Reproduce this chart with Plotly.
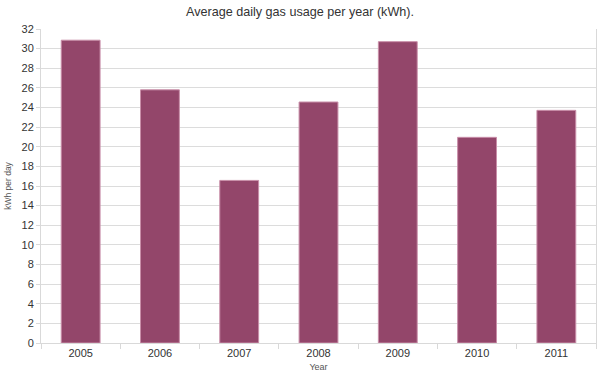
import plotly.graph_objects as go

years = ["2005", "2006", "2007", "2008", "2009", "2010", "2011"]
usage = [30.86, 25.8, 16.57, 24.56, 30.71, 20.96, 23.71]
y_ticks = list(range(0, 33, 2))

fig = go.Figure(go.Bar(
    x=years, y=usage,
    marker=dict(color="#93466a", line=dict(color="#c98fa9", width=1)),
    hoverinfo="skip",
))

fig.update_layout(
    width=600, height=379,
    margin=dict(l=41, r=4, t=29, b=36),
    paper_bgcolor="white", plot_bgcolor="white",
    font=dict(family="Liberation Sans, Arial, sans-serif", color="#333333", size=11),
    title=dict(text="Average daily gas usage per year (kWh).", x=0.5, xanchor="center",
               xref="container",
               y=1 - 12 / 379, yanchor="middle", yref="container",
               font=dict(size=12.6, color="#333333")),
    bargap=0.51,
    showlegend=False,
)
fig.update_xaxes(
    title=dict(text="Year", font=dict(size=9, color="#555555"), standoff=5),
    showline=True, linecolor="#d9d9d9", linewidth=1, mirror=False,
    ticks="outside", ticklen=5, tickcolor="#d9d9d9", tickson="boundaries",
    tickfont=dict(size=11, color="#333333"),
)
fig.update_yaxes(
    title=dict(text="kWh per day", font=dict(size=8.5, color="#555555"), standoff=8),
    range=[0, 32], tickvals=y_ticks,
    showline=True, linecolor="#d9d9d9", linewidth=1, mirror=True,
    showgrid=True, gridcolor="#dcdcdc", gridwidth=1,
    ticks="outside", ticklen=4, tickcolor="#d9d9d9",
    tickfont=dict(size=11, color="#333333"), zeroline=False,
)

fig.write_html("out.html", config={"displayModeBar": False},
               post_script="document.body.style.margin='0';")
